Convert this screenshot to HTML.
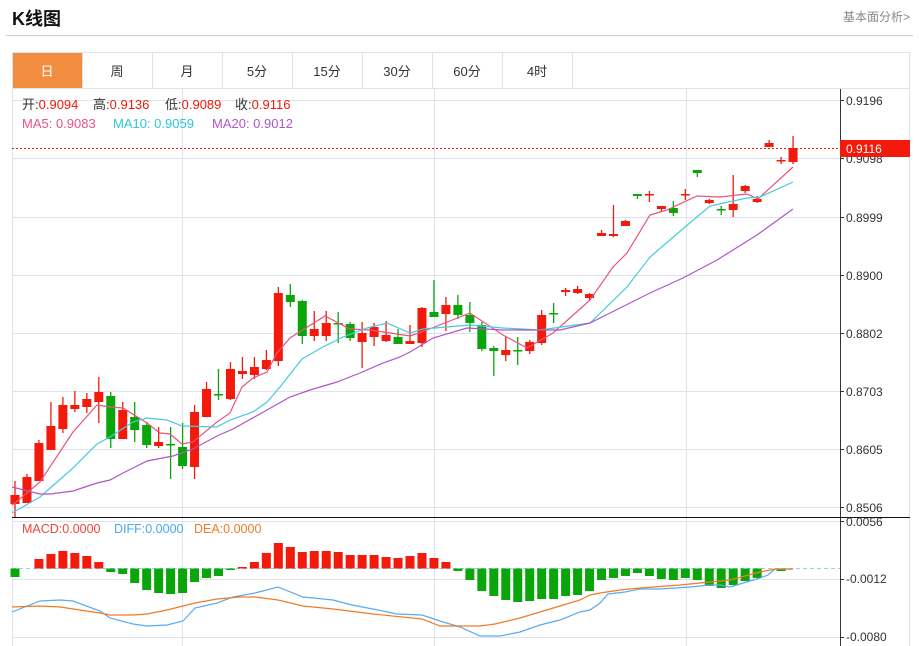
<!DOCTYPE html>
<html><head><meta charset="utf-8"><style>
body{margin:0;width:919px;height:646px;background:#fff;font-family:"Liberation Sans","Noto Sans CJK SC",sans-serif;overflow:hidden;position:relative}
.t{position:absolute}
</style></head><body>
<div class="t" style="left:12px;top:5px;font-size:18px;font-weight:bold;color:#111">K线图</div>
<div class="t" style="left:843px;top:8px;font-size:12px;color:#888">基本面分析&gt;</div>
<div class="t" style="left:6px;top:35px;width:907px;height:1px;background:#ccc"></div>
<svg class="t" style="left:0;top:0" width="919" height="646" id="s">
<g fill="none" stroke="#dde3ec" stroke-width="1">
<rect x="12.5" y="52.5" width="897" height="600"/>
<line x1="12" y1="88.5" x2="910" y2="88.5"/>
<line x1="82.5" y1="53" x2="82.5" y2="88"/><line x1="152.5" y1="53" x2="152.5" y2="88"/><line x1="222.5" y1="53" x2="222.5" y2="88"/><line x1="292.5" y1="53" x2="292.5" y2="88"/><line x1="362.5" y1="53" x2="362.5" y2="88"/><line x1="432.5" y1="53" x2="432.5" y2="88"/><line x1="502.5" y1="53" x2="502.5" y2="88"/><line x1="572.5" y1="53" x2="572.5" y2="88"/>
<line x1="12" y1="100.5" x2="840" y2="100.5"/><line x1="12" y1="158.5" x2="840" y2="158.5"/><line x1="12" y1="217.5" x2="840" y2="217.5"/><line x1="12" y1="275.5" x2="840" y2="275.5"/><line x1="12" y1="333.5" x2="840" y2="333.5"/><line x1="12" y1="391.5" x2="840" y2="391.5"/><line x1="12" y1="449.5" x2="840" y2="449.5"/><line x1="12" y1="507.5" x2="840" y2="507.5"/>
<line x1="12" y1="521.5" x2="840" y2="521.5"/><line x1="12" y1="579.5" x2="840" y2="579.5"/><line x1="12" y1="637.5" x2="840" y2="637.5"/>
<line x1="182.5" y1="89" x2="182.5" y2="646"/><line x1="434.5" y1="89" x2="434.5" y2="646"/><line x1="686.5" y1="89" x2="686.5" y2="646"/>
</g>
<rect x="13" y="53" width="69" height="35" fill="#f28c3e"/>
<g font-size="13" fill="#333" text-anchor="middle">
<text x="47" y="76" fill="#fff">日</text><text x="117" y="76">周</text><text x="187" y="76">月</text><text x="257" y="76">5分</text><text x="327" y="76">15分</text><text x="397" y="76">30分</text><text x="467" y="76">60分</text><text x="537" y="76">4时</text>
</g>
<line x1="840.5" y1="89" x2="840.5" y2="646" stroke="#333"/>
<line x1="12" y1="517.5" x2="910" y2="517.5" stroke="#111"/>
<line x1="12" y1="568.5" x2="840" y2="568.5" stroke="#8fd6e6" stroke-dasharray="4,3"/>
<g font-size="12" fill="#333">
<text x="846" y="105">0.9196</text><text x="846" y="163">0.9098</text><text x="846" y="222">0.8999</text><text x="846" y="280">0.8900</text><text x="846" y="338">0.8802</text><text x="846" y="396">0.8703</text><text x="846" y="454">0.8605</text><text x="846" y="512">0.8506</text>
<text x="846" y="526">0.0056</text><text x="846" y="583">-0.0012</text><text x="846" y="641">-0.0080</text>
</g>
<g stroke="#333"><line x1="840" y1="100.5" x2="844" y2="100.5"/><line x1="840" y1="158.5" x2="844" y2="158.5"/><line x1="840" y1="217.5" x2="844" y2="217.5"/><line x1="840" y1="275.5" x2="844" y2="275.5"/><line x1="840" y1="333.5" x2="844" y2="333.5"/><line x1="840" y1="391.5" x2="844" y2="391.5"/><line x1="840" y1="449.5" x2="844" y2="449.5"/><line x1="840" y1="507.5" x2="844" y2="507.5"/><line x1="840" y1="521.5" x2="844" y2="521.5"/><line x1="840" y1="579.5" x2="844" y2="579.5"/><line x1="840" y1="637.5" x2="844" y2="637.5"/></g>
<line x1="12" y1="148.5" x2="840" y2="148.5" stroke="#f21a0a" stroke-dasharray="2,2"/>
<rect x="840" y="140" width="70" height="17" fill="#f21a0a"/>
<text x="846" y="153" font-size="12" fill="#fff">0.9116</text>
<g font-size="13">
<text x="22" y="109" fill="#333">开:<tspan fill="#f21a0a">0.9094</tspan></text>
<text x="93" y="109" fill="#333">高:<tspan fill="#f21a0a">0.9136</tspan></text>
<text x="165" y="109" fill="#333">低:<tspan fill="#f21a0a">0.9089</tspan></text>
<text x="235" y="109" fill="#333">收:<tspan fill="#f21a0a">0.9116</tspan></text>
<text x="22" y="128" fill="#e8537f">MA5: 0.9083</text><text x="113" y="128" fill="#2ec6dc">MA10: 0.9059</text><text x="212" y="128" fill="#b055c8">MA20: 0.9012</text>
</g>
<g font-size="12.5">
<text x="22" y="533" fill="#f0443a">MACD:0.0000</text><text x="114" y="533" fill="#4aa8ee">DIFF:0.0000</text><text x="194" y="533" fill="#f07b22">DEA:0.0000</text>
</g>
<g id="c"></g>
</svg>
<script>
var C=[[495,504,481,517,'r'],[477,503,474,503,'r'],[443,481,440,481,'r'],[426,450,402,450,'r'],[405,429,397,433,'r'],[405,409,391,412,'r'],[399,407,393,413,'r'],[392,402,377,423,'r'],[396,439,392,448,'g'],[410,439,402,439,'r'],[417,430,402,442,'g'],[425,445,422,448,'g'],[442,446,427,448,'r'],[444,445,427,479,'g'],[447,466,423,469,'g'],[412,467,405,479,'r'],[389,417,382,417,'r'],[394,395,369,400,'g'],[369,399,362,400,'r'],[371,374,357,379,'r'],[367,375,357,379,'r'],[360,369,350,370,'r'],[293,361,287,366,'r'],[295,302,284,307,'g'],[301,336,300,344,'g'],[329,336,311,341,'r'],[323,336,311,341,'r'],[323,324,312,343,'g'],[324,338,322,341,'g'],[333,342,322,368,'r'],[327,337,323,346,'r'],[335,341,321,342,'r'],[337,344,329,344,'g'],[341,344,325,344,'r'],[308,343,307,347,'r'],[312,317,280,317,'g'],[305,314,297,331,'r'],[305,315,295,319,'g'],[315,323,302,332,'g'],[325,349,322,351,'g'],[348,351,346,376,'g'],[350,355,337,361,'r'],[350,351,337,365,'g'],[342,351,340,354,'r'],[315,343,310,345,'r'],[313,314,303,323,'g'],[290,292,288,296,'r'],[289,293,286,294,'r'],[294,298,293,301,'r'],[233,236,230,236,'r'],[234,236,205,237,'r'],[221,226,220,226,'r'],[194,196,194,199,'g'],[194,195,191,202,'r'],[206,209,206,212,'r'],[208,213,201,216,'g'],[194,195,189,200,'r'],[170,173,170,177,'g'],[200,203,199,204,'r'],[209,210,206,215,'g'],[204,210,175,217,'r'],[186,191,185,193,'r'],[199,202,196,203,'r'],[143,147,140,147,'r'],[160,161,157,164,'r'],[148,162,136,164,'r']];
var H=[577,568,559,554,551,553,556,562,572,574,583,590,593,594,593,582,578,576,570,567,562,553,543,547,552,551,551,552,555,555,555,557,558,556,553,558,562,571,580,591,596,600,602,601,599,599,596,595,591,580,578,576,573,576,579,580,578,580,586,588,585,581,578,569,571,569];
H[1]=568.5;
var s='';
function X(i){return 15+i*11.97;}
C.forEach(function(c,i){var x=X(i),col=c[4]=='r'?'#f21a0a':'#0aa50a';
s+='<line x1="'+x+'" x2="'+x+'" y1="'+c[2]+'" y2="'+c[3]+'" stroke="'+col+'" stroke-width="1.3"/>';
var h=Math.max(c[1]-c[0],1.5);s+='<rect x="'+(x-4.5)+'" y="'+c[0]+'" width="9" height="'+h+'" fill="'+col+'"/>';});
H.forEach(function(v,i){var x=X(i),z=568.5;var col=v<z?'#f21a0a':'#0aa50a';var y=Math.min(v,z),h=Math.abs(v-z);if(h<1)return;
s+='<rect x="'+(x-4.5)+'" y="'+y+'" width="9" height="'+h+'" fill="'+col+'"/>';});
function P(p,c){s+='<polyline fill="none" stroke="'+c+'" stroke-width="1.2" points="'+p+'"/>';}
P('12,505 15,503 40,482 73,432 97,405 110,407 123,408 147,423 160,433 170,434 182,444 193,442 217,422 230,413 242,387 253,378 267,372 277,353 290,338 325,316 350,329 370,330 410,336 427,330 470,313 503,335 527,348 553,333 580,309 590,300 613,267 627,253 650,215 667,210 697,196 720,197 747,194 758,199 793,167','#e8537f');
P('12,513 40,497 73,468 97,444 110,437 133,422 147,418 167,420 182,426 217,427 230,420 253,412 267,402 280,387 302,359 323,347 343,337 367,328 387,323 410,333 423,329 470,325 503,328 540,330 590,323 627,287 650,257 685,227 710,206 747,198 760,197 793,182','#45cbe0');
P('12,487 40,494 50,494 73,491 97,483 110,480 123,473 147,461 173,456 193,449 217,436 233,429 267,410 290,397 310,390 337,382 360,373 383,363 400,357 410,352 433,338 467,328 503,330 560,330 590,323 620,308 650,293 683,278 717,260 757,235 793,209','#b055c8');
P('12,612 40,601 60,600 73,601 100,611 110,618 133,624 147,626 167,625 183,621 195,608 217,603 233,597 255,593 278,587 303,597 333,600 352,605 373,609 397,614 422,615 440,621 460,627 480,636 500,636 520,632 540,625 560,620 580,612 590,610 600,603 608,594 625,592 640,589 660,589 690,587 710,585 720,585 730,587 740,584 760,578 768,575 775,569 793,569','#5aaaf0');
P('12,607 40,606 60,607 100,613 110,615 133,615 147,614 167,610 195,603 217,599 240,597 255,597 278,600 303,606 333,609 373,614 422,619 440,626 480,626 495,624 520,618 540,612 560,606 580,600 590,595 600,593 620,590 640,588 680,585 710,582 730,580 760,572 775,569 793,569','#f07b22');
document.getElementById('c').innerHTML=s;
</script>
</body></html>
